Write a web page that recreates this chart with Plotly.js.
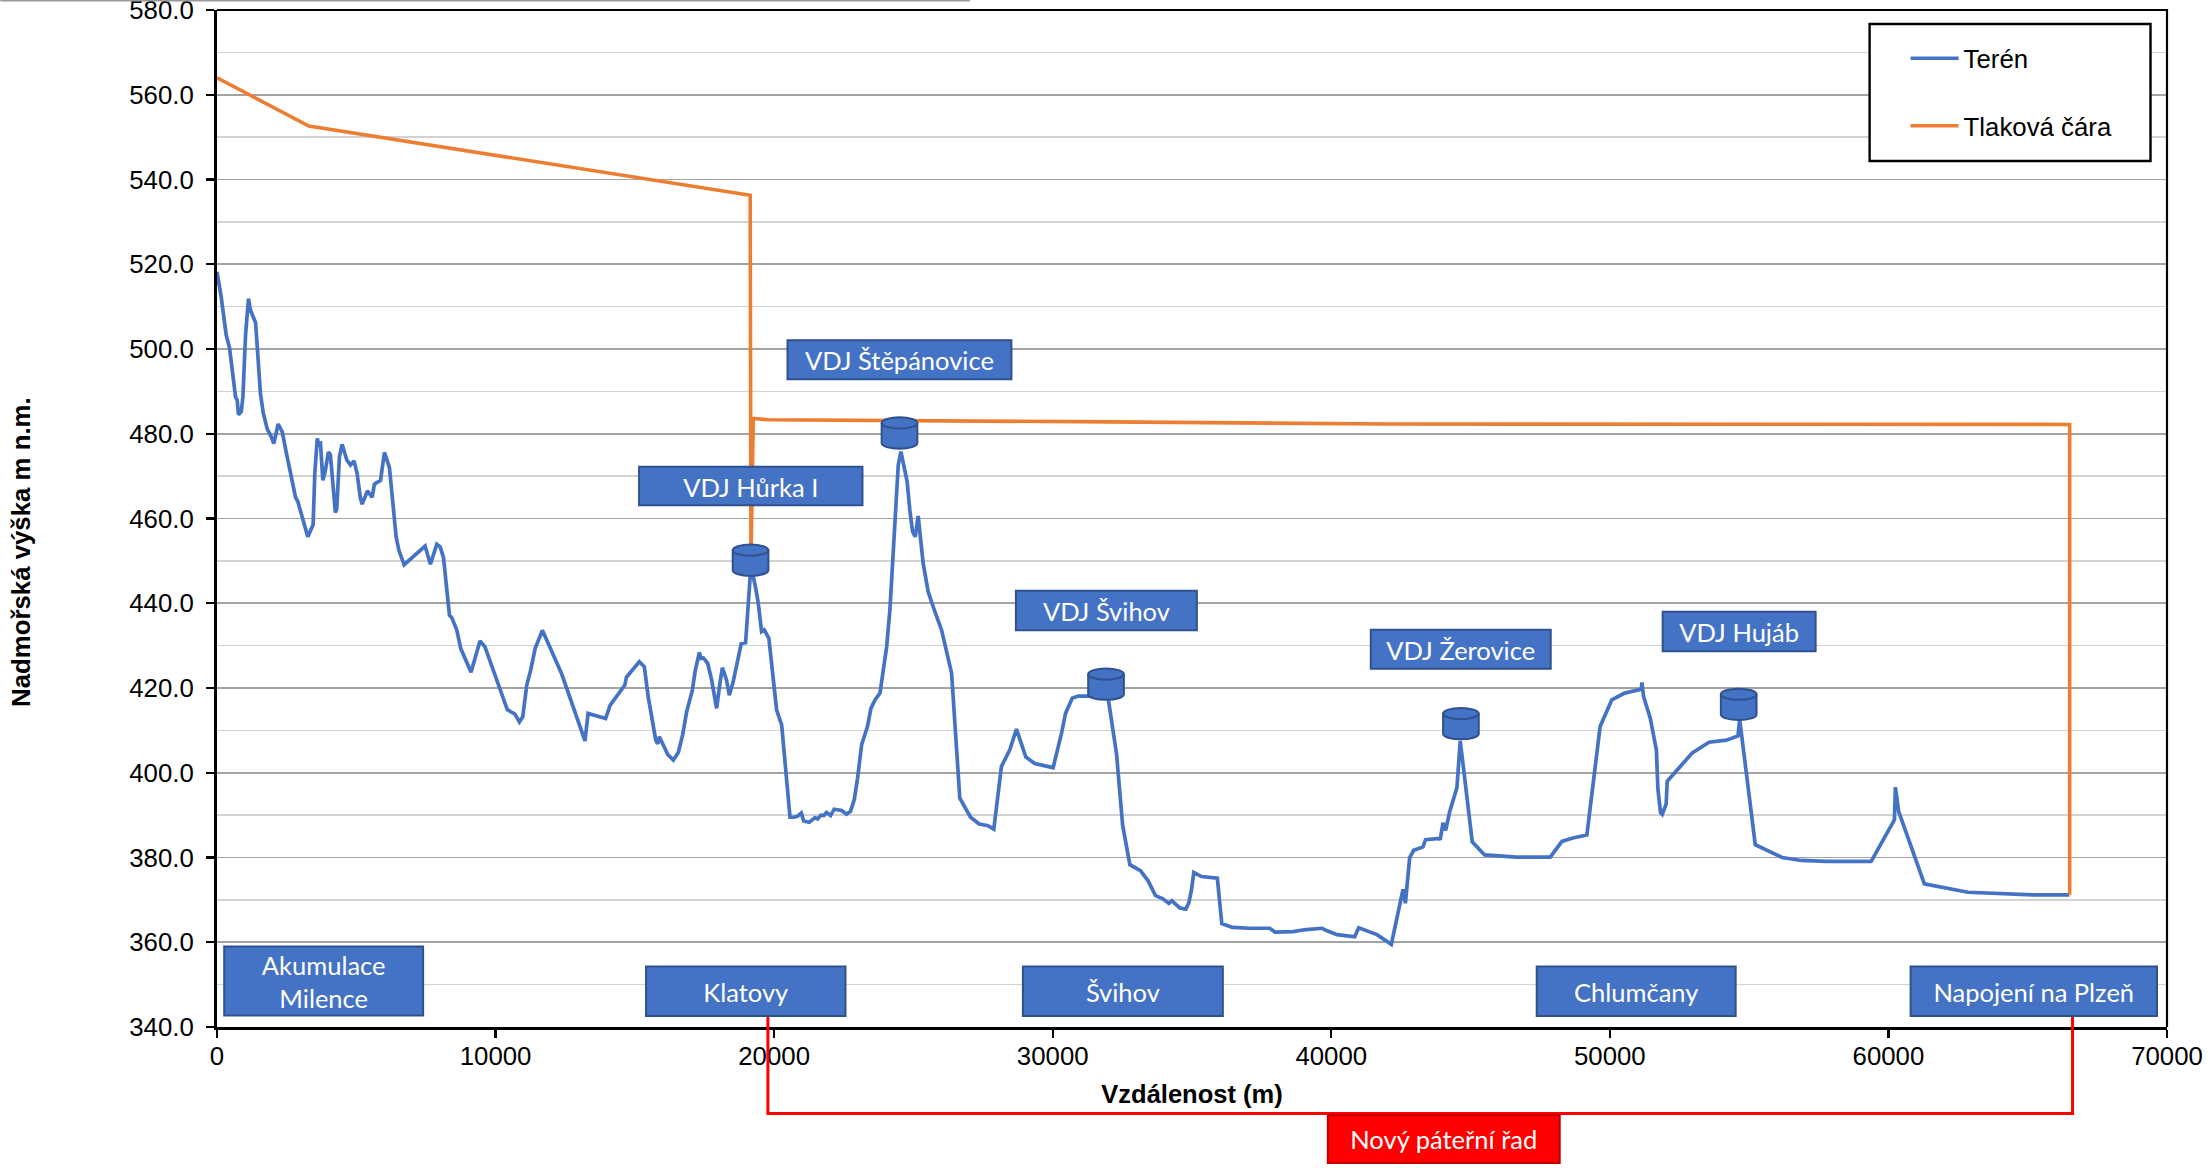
<!DOCTYPE html>
<html><head><meta charset="utf-8">
<script src="https://cdn.plot.ly/plotly-3.0.1.min.js"></script>
<style>html,body{margin:0;padding:0;background:#fff}#c{width:2212px;height:1168px}</style>
</head><body><div id="c"></div>
<script>
const terrainDistance = [0,150,330,450,665,725,770,870,930,1025,1130,1200,1385,1455,1560,1660,1800,1945,2040,2195,2340,2480,2660,2820,2900,3260,3450,3510,3600,3655,3715,3800,3880,4000,4070,4250,4300,4395,4490,4660,4790,4920,5030,5150,5210,5400,5570,5650,5870,6010,6190,6310,6430,6530,6717,7470,7660,7890,8010,8130,8345,8430,8610,8750,9120,9440,9620,10420,10700,10855,10975,11120,11260,11420,11680,12375,13210,13320,13950,14110,14560,14640,14700,15160,15340,15480,15750,15820,15880,16180,16380,16560,16715,16860,17065,17160,17315,17375,17460,17615,17755,17935,18055,18140,18290,18390,18530,18680,18820,18975,19050,19130,19168,19350,19430,19550,19645,19810,19910,20090,20270,20570,20700,20830,20975,21060,21260,21465,21560,21680,21785,21880,22025,22155,22420,22600,22740,22875,22995,23140,23350,23475,23620,23800,23920,24040,24155,24250,24395,24455,24550,24660,24775,24870,24970,25065,25110,25170,25350,25530,25770,26010,26370,26665,27050,27360,27680,27885,28160,28460,28700,29035,29355,29720,30015,30315,30460,30700,30915,31275,31810,31990,32110,32290,32510,32770,33150,33425,33690,33940,34170,34275,34560,34775,34885,34980,35065,35340,35910,36070,36450,37075,37790,37980,38625,39100,39670,39850,40205,40840,40985,41640,42155,42575,42660,42815,42960,43290,43385,43870,43910,44010,44105,44250,44510,44630,45060,45505,46640,47860,48280,48670,49175,49650,50070,50530,51130,51150,51210,51450,51670,51725,51820,51880,52020,52060,52960,53560,54180,54600,54660,55220,56185,56870,57760,59380,60215,60250,60370,61290,62850,64100,65180,66500];
const terrainElevation = [518.2,512.3,503.3,500.3,488.7,487.9,484.5,485.2,488.7,503.3,511.9,509.2,506.2,498.1,489.5,484.9,481.2,479.3,477.7,482.3,480.5,475.8,470.6,465,464,455.7,458.5,470.6,478.9,477.5,477.7,469,471,475.7,475,461.4,462.4,474.6,477.5,473.8,472.6,473.6,470.6,464.7,463.4,466.5,465,468.1,469,475.6,472,462.8,455.7,452.5,449.1,453.5,449.2,453.9,453.3,450.8,437.2,436.6,433.6,429.3,423.7,431.1,429.7,414.9,413.8,412,413.2,420.7,424.2,429.3,433.6,423.3,407.5,414,412.8,415.9,419.9,420.7,422.6,426.2,425,417.9,407.7,406.8,408.5,404.3,403,404.8,408.9,414.4,419.5,423.8,428.4,427,427.1,425.8,421.9,415.2,421.1,424.8,421.9,418.3,421.5,425.8,430.5,430.7,438.4,447.8,449,443.1,440,433.3,433.7,431.7,425,414.8,411.3,389.5,389.5,389.7,390.5,388.6,388.3,389.4,389.1,390,389.9,390.6,389.9,391.4,391.1,390.2,390.9,393.6,398.7,406.6,410.9,415.2,417.2,418.8,424.3,429.8,438.4,450.2,467.5,472.6,475.8,472.6,468.7,462,456.9,455.7,458.1,460.6,449.4,442.7,438,433.7,423.5,394,389.5,387.9,387.5,386.7,401.5,405.4,410.3,403.7,402.2,401.6,401.2,409.3,414,417.6,418.1,418.1,418,417.6,412.4,404.5,387.6,378.3,376.9,374.5,371,370.3,369.2,369.8,368.1,367.8,369.3,372.3,376.5,375.5,375.1,364.4,363.5,363.3,363.3,362.4,362.5,363,363.3,362.7,361.8,361.3,363.4,361.8,359.5,372.5,369.2,380,381.7,382.5,384.2,384.5,384.2,388.2,386.4,390.8,396.5,407.5,383.7,380.6,380.1,380.1,383.8,384.6,385.3,410.9,417.2,418.8,419.7,421.3,418,412.9,405.4,396.1,390.6,390.2,392.6,398,404.7,407.2,407.7,408.7,412.6,383,380,379.3,379.1,379.1,388.9,396.6,390.8,373.8,371.8,371.4,371.2,371.2];
const pressureDistance = [0,3297,19140,19168,19250,19800,32000,42000,66505,66505];
const pressureElevation = [564,552.6,536.3,449,483.6,483.3,482.8,482.3,482.2,371.2];
const seriesNames = ["Terén","Tlaková čára"];
const sectionLabels = ["VDJ Štěpánovice","VDJ Hůrka I","VDJ Švihov","VDJ Žerovice","VDJ Hujáb","Akumulace<br>Milence","Klatovy","Švihov","Chlumčany","Napojení na Plzeň","Nový páteřní řad"];
const xAxisTitle = "Vzdálenost (m)";
const yAxisTitle = "Nadmořská výška m n.m.";

/* page geometry (px) */
const W=2212,H=1168,L=216.8,R=2167.5,T=10,B=1027.5;
const px=x=>(x-L)/(R-L), py=y=>(B-y)/(B-T);
const BLUE="#4472C4",EDGE="#2F528F",ORANGE="#ED7D31";
const boxRects=[[787.5,1011.5,340.5,379.5],[639,862.5,467,505.5],[1016,1197,591,630.5],[1371,1551,630,669],[1663,1816,612,651.5],[224,423,947,1016],[646,845.5,967,1016.5],[1023,1223,967,1016.5],[1537,1736,967,1016.5],[1911,2157.5,967,1016.5],[1328,1560,1115.5,1163.5]];
const tanks=[[732.7,544.8],[881.7,417.5],[1088.3,668.8],[1443.3,708.3],[1721.2,689]];
const P=(x,y)=>px(x).toFixed(5)+","+py(y).toFixed(5);
const shapes=[];
/* gridline fragment at the very top of the page */
shapes.push({type:"line",xref:"paper",yref:"paper",x0:px(0),x1:px(970),y0:py(0.7),y1:py(0.7),line:{color:"#9a9a9a",width:1.4}});
/* top and right frame */
shapes.push({type:"path",xref:"paper",yref:"paper",path:`M${P(L,T)} L${P(R,T)} L${P(R,B)}`,line:{color:"#000",width:2.2}});
/* legend frame */
shapes.push({type:"rect",xref:"paper",yref:"paper",x0:px(1870),x1:px(2151),y0:py(161),y1:py(24),fillcolor:"#fff",line:{color:"#000",width:2.4}});
/* red bracket */
shapes.push({type:"path",xref:"paper",yref:"paper",path:`M${P(767.9,1017)} L${P(767.9,1114)} L${P(2073,1114)} L${P(2073,1017)}`,line:{color:"#FF0000",width:3}});
/* tanks */
tanks.forEach(([x,y])=>{
  const w=35.7,h=31.4,ry=5.6,k=0.5523,c=x+w/2,r=x+w;
  const bodyPath=`M${P(x,y+ry)} C${P(x,y+ry-ry*k)} ${P(c-w/2*k,y)} ${P(c,y)} C${P(c+w/2*k,y)} ${P(r,y+ry-ry*k)} ${P(r,y+ry)} L${P(r,y+h-ry)} C${P(r,y+h-ry+ry*k)} ${P(c+w/2*k,y+h)} ${P(c,y+h)} C${P(c-w/2*k,y+h)} ${P(x,y+h-ry+ry*k)} ${P(x,y+h-ry)} Z`;
  const lid=`M${P(x,y+ry)} C${P(x,y+ry+ry*k)} ${P(c-w/2*k,y+2*ry)} ${P(c,y+2*ry)} C${P(c+w/2*k,y+2*ry)} ${P(r,y+ry+ry*k)} ${P(r,y+ry)}`;
  shapes.push({type:"path",xref:"paper",yref:"paper",path:bodyPath,fillcolor:BLUE,line:{color:EDGE,width:2}});
  shapes.push({type:"path",xref:"paper",yref:"paper",path:lid,line:{color:EDGE,width:2}});
});
/* labelled boxes */
sectionLabels.forEach((t,i)=>{
  const b=boxRects[i],red=i===sectionLabels.length-1;
  shapes.push({type:"rect",xref:"paper",yref:"paper",x0:px(b[0]),x1:px(b[1]),y0:py(b[3]),y1:py(b[2]),
    fillcolor:red?"#FF0000":BLUE,line:{color:red?"#C00000":EDGE,width:2},
    label:{text:t,font:{family:"Lato, Carlito, sans-serif",size:25.5,color:"#fff"},textposition:"middle center"}});
});
const axisFont={family:"Liberation Sans, Arial, sans-serif",size:25.8,color:"#000"};
const titleFont={family:"Liberation Sans, Arial, sans-serif",size:25.5,color:"#000",weight:700};
const data=[
 {x:terrainDistance,y:terrainElevation,name:seriesNames[0],mode:"lines",legendgroup:"a",line:{color:BLUE,width:3.7},hoverinfo:"x+y"},
 {x:pressureDistance,y:pressureElevation,name:seriesNames[1],mode:"lines",legendgroup:"b",line:{color:ORANGE,width:3.6},hoverinfo:"x+y"}
];
const layout={
 width:W,height:H,paper_bgcolor:"#fff",plot_bgcolor:"#fff",
 margin:{l:L,r:W-R,t:T,b:H-B,pad:0},
 font:axisFont,
 xaxis:{range:[0,70000],dtick:10000,tick0:0,tickformat:"d",showgrid:false,zeroline:false,
   showline:true,linecolor:"#000",linewidth:3,ticks:"outside",ticklen:8,tickwidth:2.2,tickcolor:"#000",ticklabelstandoff:-4,ticklabeloverflow:"allow",
   tickfont:axisFont,title:{text:xAxisTitle,font:titleFont,standoff:17}},
 yaxis:{range:[340,580],dtick:20,tick0:340,tickformat:".1f",showgrid:true,gridcolor:"#a3a3a3",gridwidth:1.6,zeroline:false,
   showline:true,linecolor:"#000",linewidth:3,ticks:"outside",ticklen:8,tickwidth:2.2,tickcolor:"#000",ticklabelstandoff:7,ticklabeloverflow:"allow",
   tickfont:axisFont,
   minor:{dtick:10,showgrid:true,gridcolor:"#d2d2d2",gridwidth:1.6,ticks:""}},
 showlegend:true,
 legend:{x:px(1906),y:py(35),xanchor:"left",yanchor:"top",bgcolor:"rgba(0,0,0,0)",borderwidth:0,
   font:axisFont,itemwidth:48,tracegroupgap:31,traceorder:"grouped"},
 shapes:shapes,
 annotations:[{xref:"paper",yref:"paper",x:px(20),y:py(552),xanchor:"center",yanchor:"middle",text:"<b>"+yAxisTitle+"</b>",textangle:-90,showarrow:false,
   font:{family:"Liberation Sans, Arial, sans-serif",size:25.8,color:"#000"}}]
};
Plotly.newPlot("c",data,layout,{displayModeBar:false,staticPlot:true});
</script></body></html>
